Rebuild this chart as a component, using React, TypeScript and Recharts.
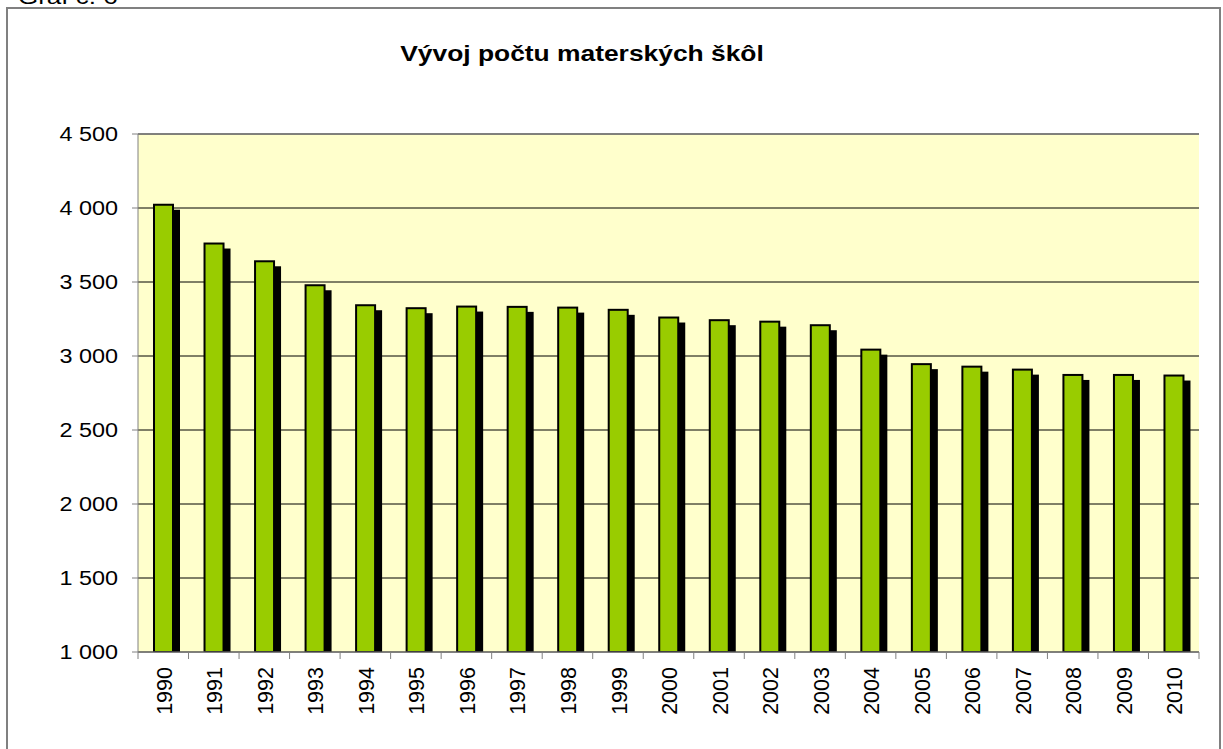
import { Bar, BarChart, CartesianGrid, ReferenceLine, XAxis, YAxis } from "recharts"

const years = [
  "1990", "1991", "1992", "1993", "1994", "1995", "1996", "1997", "1998", "1999", "2000",
  "2001", "2002", "2003", "2004", "2005", "2006", "2007", "2008", "2009", "2010"
]

const schools = [
  4022, 3760, 3640, 3478, 3343, 3323, 3334, 3332, 3327, 3312, 3260,
  3242, 3232, 3208, 3043, 2945, 2928, 2908, 2872, 2872, 2868
]

const valueTicks = [1000, 1500, 2000, 2500, 3000, 3500, 4000, 4500]

const chartTitle = "Vývoj počtu materských škôl"
const figureLabel = "Graf č. 6"

const FONT = "'Liberation Sans', Arial, sans-serif"
const AXIS_GRAY = "#808080"

const data = years.map((year, i) => ({ year, schools: schools[i] }))

function formatThousands(value: number) {
  const thousands = Math.floor(value / 1000)
  const rest = String(value % 1000).padStart(3, "0")
  return `${thousands} ${rest}`
}

function ShadowBar(props: any) {
  const { x, y, width, height } = props
  if (!height || height <= 0) {
    return null
  }

  return (
    <g>
      <rect x={x + 7} y={y + 5} width={width} height={Math.max(height - 5, 0)} fill="#000000" />
      <rect x={x} y={y} width={width} height={height} fill="#99CC00" stroke="#000000" strokeWidth={2} />
    </g>
  )
}

function YearTick(props: any) {
  const { x, y, payload, index } = props
  const half = payload?.offset || 25.25
  const isLast = index === years.length - 1

  return (
    <g>
      <line x1={x - half} x2={x - half} y1={y} y2={y + 7} stroke={AXIS_GRAY} />
      {isLast && <line x1={x + half} x2={x + half} y1={y} y2={y + 7} stroke={AXIS_GRAY} />}
      <text
        transform={`translate(${x + 1},${y + 15}) rotate(-90)`}
        textAnchor="end"
        dy="0.35em"
        fontSize={21.5}
        fontFamily={FONT}
        fill="#000000"
      >
        {payload.value}
      </text>
    </g>
  )
}

function ValueTick(props: any) {
  const { x, y, payload } = props
  return (
    <text
      transform={`translate(${x},${y}) scale(1.2,1)`}
      textAnchor="end"
      dy="0.36em"
      fontSize={19.5}
      fontFamily={FONT}
      fill="#000000"
    >
      {formatThousands(payload.value)}
    </text>
  )
}

export default function App() {
  return (
    <div
      style={{
        position: "absolute",
        left: 0,
        top: 0,
        width: 1223,
        height: 749,
        overflow: "hidden",
        background: "#ffffff"
      }}
    >
      <svg width={1223} height={749} style={{ position: "absolute", left: 0, top: 0 }}>
        <rect x={7} y={8} width={1213} height={800} fill="#ffffff" stroke={AXIS_GRAY} strokeWidth={2} />
        <text
          transform="translate(18,4) scale(1.3,1)"
          fontSize={20}
          fontFamily={FONT}
          fill="#000000"
        >
          {figureLabel}
        </text>
        <text
          transform="translate(582,61) scale(1.2,1)"
          textAnchor="middle"
          fontSize={22}
          fontWeight="bold"
          fontFamily={FONT}
          fill="#000000"
        >
          {chartTitle}
        </text>
      </svg>
      <div style={{ position: "absolute", left: 0, top: 0 }}>
        <BarChart
          width={1223}
          height={749}
          data={data}
          margin={{ top: 134, right: 24, bottom: 0, left: 0 }}
          barSize={19}
        >
          <CartesianGrid fill="#FFFFCC" stroke="#000000" vertical={false} />
          <XAxis
            dataKey="year"
            height={97}
            interval={0}
            tickSize={0}
            tickMargin={0}
            tickLine={false}
            axisLine={{ stroke: AXIS_GRAY }}
            tick={<YearTick />}
          />
          <YAxis
            domain={[1000, 4500]}
            ticks={valueTicks}
            allowDataOverflow
            width={138}
            tickSize={6}
            tickMargin={14}
            tickLine={{ stroke: AXIS_GRAY }}
            axisLine={{ stroke: AXIS_GRAY }}
            tick={<ValueTick />}
          />
          <YAxis
            yAxisId="right"
            orientation="right"
            domain={[1000, 4500]}
            width={0}
            tick={false}
            tickLine={false}
            axisLine={{ stroke: AXIS_GRAY, strokeWidth: 2 }}
          />
          <ReferenceLine y={4500} stroke={AXIS_GRAY} strokeWidth={1.5} />
          <Bar dataKey="schools" shape={<ShadowBar />} isAnimationActive={false} />
        </BarChart>
      </div>
    </div>
  )
}
